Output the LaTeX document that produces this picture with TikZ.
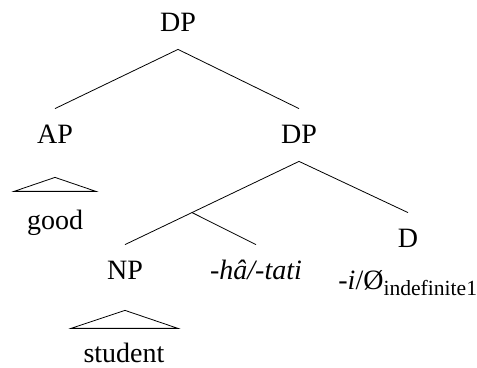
\documentclass[tikz,border=0pt]{standalone}
\usepackage{fontspec}
\setmainfont{Liberation Serif}
\usetikzlibrary{calc}
\begin{document}
\begin{tikzpicture}[x=0.5pt,y=-0.5pt,
    every node/.style={anchor=base,inner sep=8.5pt,text height=9pt,text depth=0pt,
      font=\fontsize{14}{16}\selectfont}] %DP tree
    \useasboundingbox (0,0) rectangle (477,368);

    \node (dptop) at (178,32) {DP};
    \node (ap) at (55,144) {AP};
    \node (dpb) at (299,144) {DP};
    \node (good) at (55,230) {good};
    \node (d) at (408,248) {D};
    \node (np) at (125,280) {NP};
    \node (hati) at (256,280) {\textit{-hâ/-tati}};
    \node[anchor=base west,inner sep=0pt] (idef) at (338,290)
        {-\textit{i}/Ø\raisebox{-3pt}{\fontsize{10.8}{12}\selectfont indefinite1}};
    \node (student) at (124,363) {student};

    \draw (ap.north) -- (dptop.south) -- (dpb.north);
    \draw (np.north) -- (dpb.south) -- (d.north);
    \coordinate (br) at ($(dpb.south)!0.615!(np.north)$);
    \draw (br) -- (hati.north);

    \draw (ap.south) ++(0,16) -- ++(-41,14) -- ++(82,0) -- cycle;
    \draw (np.south) ++(0,13) -- ++(-54,18) -- ++(107,0) -- cycle;
\end{tikzpicture}
\end{document}
